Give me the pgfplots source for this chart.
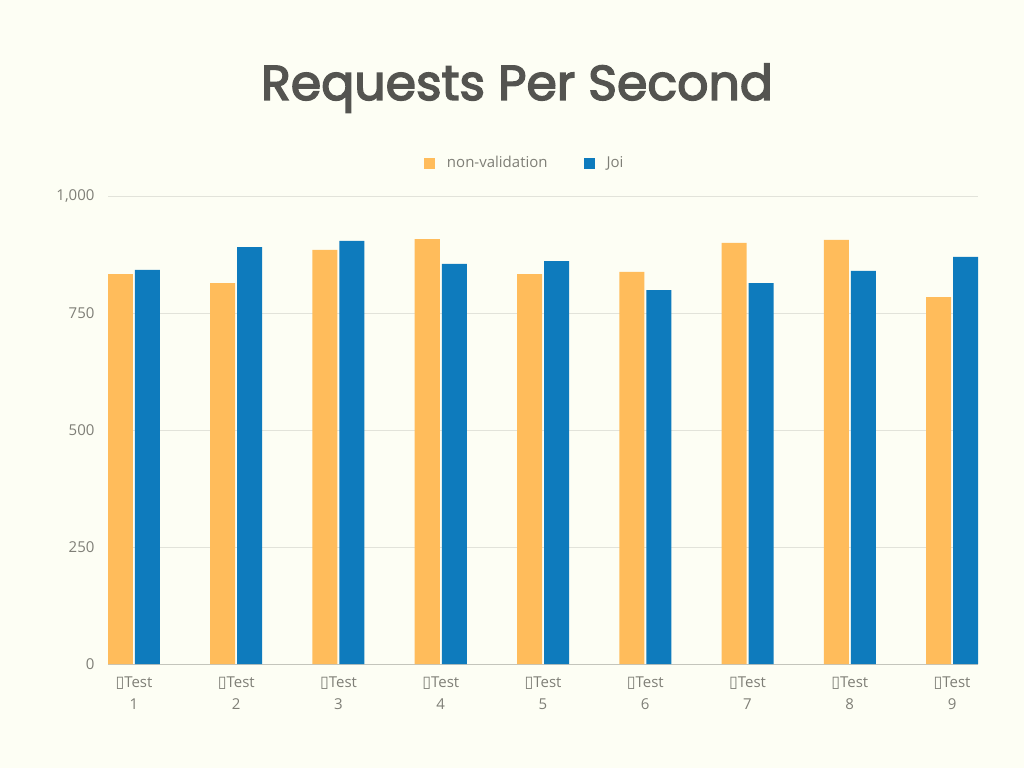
\documentclass[border=0pt]{standalone}
\usepackage{pgfplots}
\pgfplotsset{compat=1.18}
\usepackage{fontspec}
\setmainfont{Open Sans}
\newfontfamily\titlefont[FakeBold=3]{Poppins}
\newfontfamily\symfont{DejaVu Sans}

\definecolor{bg}{HTML}{FDFEF4}
\definecolor{nonval}{HTML}{FFBC5B}
\definecolor{joi}{HTML}{0E7BBD}
\definecolor{gridc}{HTML}{E2E3DA}
\definecolor{axisc}{HTML}{C4C5BC}
\definecolor{tickc}{HTML}{7F7F77}
\definecolor{titlec}{HTML}{545450}

% requests per second, one row per test
\pgfplotstableread{
test nonval joi
1 833 842
2 814 891
3 885 904
4 908 855
5 833 861
6 838 799
7 900 814
8 906 840
9 784 870
}\rps

\newcommand{\tst}[1]{{\symfont\fontsize{16}{16}\selectfont ▯}Test\\#1}

\begin{document}
\begin{tikzpicture}[x=1pt,y=1pt]
\fill[bg] (0,0) rectangle (1024,768);
\useasboundingbox (0,0) rectangle (1024,768);

\node[text=titlec, font=\titlefont\fontsize{49}{49}\selectfont, anchor=base]
  at (517,668) {Requests Per Second};

\begin{axis}[
    at={(108pt,104pt)}, anchor=south west,
    scale only axis,
    width=870pt, height=468pt,
    xmin=0.746, xmax=9.254,
    ymin=0, ymax=1000,
    ytick={0,250,500,750,1000},
    yticklabels={0,250,500,750,{1,000}},
    xtick={1,...,9},
    xticklabels={\tst{1},\tst{2},\tst{3},\tst{4},\tst{5},\tst{6},\tst{7},\tst{8},\tst{9}},
    x tick label style={align=center, font=\fontsize{15}{22}\selectfont, text=tickc, yshift=-9pt},
    y tick label style={font=\fontsize{15}{15}\selectfont, text=tickc},
    yticklabel style={xshift=-10pt},
    axis x line*=bottom, axis y line*=left,
    x axis line style={draw=axisc, line width=1pt},
    y axis line style={draw=none},
    ymajorgrids, grid style={gridc, line width=0.8pt},
    major tick length=0pt,
    ybar, bar width=25pt,
    legend style={at={(0.479,1.0705)}, anchor=center, draw=none, fill=none,
      legend columns=2, font=\fontsize{15}{15}\selectfont, text=tickc,
      /tikz/every even column/.append style={column sep=34pt}},
    legend image code/.code={\fill[#1] (0pt,-5.5pt) rectangle (11pt,5.5pt); \path (21pt,0pt);},
]
\addplot[fill=nonval, draw=none, bar shift=-13.5pt] table[x=test, y=nonval] {\rps};
\addplot[fill=joi, draw=none, bar shift=13.5pt] table[x=test, y=joi] {\rps};
\legend{non-validation, Joi}
\end{axis}
\end{tikzpicture}
\end{document}
